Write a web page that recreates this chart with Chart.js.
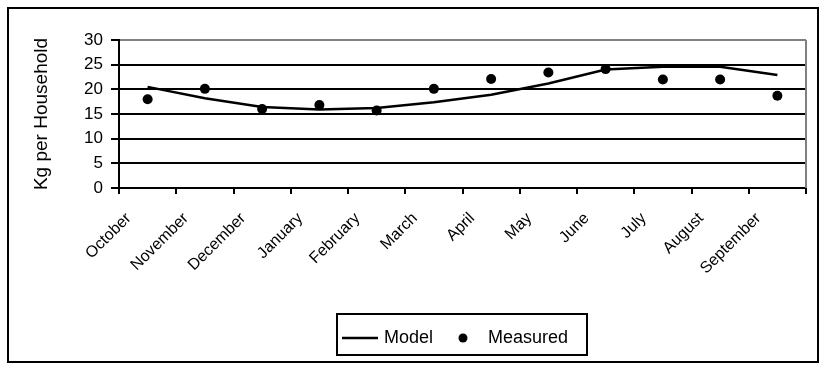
<!DOCTYPE html>
<html>
<head>
<meta charset="utf-8">
<script src="https://cdn.jsdelivr.net/npm/chart.js@4.4.0/dist/chart.umd.min.js"></script>
<style>
  html, body { margin: 0; padding: 0; background: #fff; }
  #wrap { width: 828px; height: 370px; }
</style>
</head>
<body>
<div id="wrap"><canvas id="myChart" width="828" height="370"></canvas></div>
<script>
const months = ["October", "November", "December", "January", "February", "March",
  "April", "May", "June", "July", "August", "September"];
const modelValues = [20.5, 18.2, 16.4, 15.9, 16.2, 17.4, 18.9, 21.2, 24.0, 24.6, 24.6, 22.9];
const measuredValues = [18.0, 20.1, 16.0, 16.8, 15.7, 20.1, 22.1, 23.4, 24.1, 22.0, 22.0, 18.7];
const yTicks = [0, 5, 10, 15, 20, 25, 30];

const FONT = "'Liberation Sans', Arial, sans-serif";

// outer frame + gray plot border (right) + boxed legend
const framePlugin = {
  id: "frame",
  beforeDatasetsDraw(chart) {
    const { ctx, chartArea: a } = chart;
    ctx.save();
    ctx.strokeStyle = "#808080";
    ctx.lineWidth = 2;
    ctx.beginPath();
    ctx.moveTo(a.right, a.top);
    ctx.lineTo(a.right, a.bottom);
    ctx.stroke();
    ctx.restore();
  },
  afterDraw(chart) {
    const ctx = chart.ctx;
    const ds = chart.data.datasets;
    ctx.save();
    ctx.strokeStyle = "#000";
    ctx.lineWidth = 2;
    ctx.strokeRect(8, 8, 810, 354);

    // legend
    ctx.strokeRect(337, 314, 250, 41);
    ctx.beginPath();
    ctx.lineWidth = 2.5;
    ctx.moveTo(342, 338);
    ctx.lineTo(378, 338);
    ctx.stroke();
    ctx.fillStyle = "#000";
    ctx.beginPath();
    ctx.arc(463, 338, 4.5, 0, Math.PI * 2);
    ctx.fill();
    ctx.font = "18px " + FONT;
    ctx.textBaseline = "middle";
    ctx.fillText(ds[0].label, 384, 338);
    ctx.fillText(ds[1].label, 488, 338);
    ctx.restore();
  }
};

const ctx = document.getElementById("myChart").getContext("2d");

const myChart = new Chart(ctx, {
  type: "line",
  data: {
    labels: months,
    datasets: [
      {
        label: "Model",
        data: modelValues,
        borderColor: "#000",
        borderWidth: 2.5,
        tension: 0,
        pointRadius: 0,
        fill: false,
      },
      {
        label: "Measured",
        data: measuredValues,
        showLine: false,
        pointStyle: "circle",
        pointRadius: 5,
        backgroundColor: "#000",
        borderColor: "#000",
        borderWidth: 0,
      },
    ],
  },
  options: {
    responsive: false,
    animation: false,
    layout: { padding: { top: 40, right: 22, left: 26, bottom: 0 } },
    scales: {
      x: {
        offset: true,
        afterFit: (scale) => { scale.height = 182; },
        grid: {
          offset: true,
          drawOnChartArea: false,
          drawTicks: true,
          tickLength: 6,
          lineWidth: 2,
          color: "#000",
        },
        border: { color: "#000", width: 2 },
        ticks: {
          autoSkip: false,
          maxRotation: 45,
          minRotation: 45,
          labelOffset: -19,
          padding: 15,
          color: "#000",
          font: { size: 16, family: FONT },
        },
      },
      y: {
        min: 0,
        max: 30,
        afterFit: (scale) => { scale.width = 93; },
        afterBuildTicks: (scale) => { scale.ticks = yTicks.map((v) => ({ value: v })); },
        grid: {
          lineWidth: 2,
          tickLength: 8,
          color: (c) => (c.tick && c.tick.value === 30 ? "#808080" : "#000"),
          tickColor: "#000",
        },
        border: { color: "#000", width: 2 },
        ticks: {
          padding: 8,
          color: "#000",
          font: { size: 17, family: FONT },
        },
        title: {
          display: true,
          text: "Kg per Household",
          color: "#000",
          font: { size: 19, family: FONT },
        },
      },
    },
    plugins: {
      legend: { display: false },
      tooltip: { enabled: false },
    },
  },
  plugins: [framePlugin],
});
</script>
</body>
</html>
